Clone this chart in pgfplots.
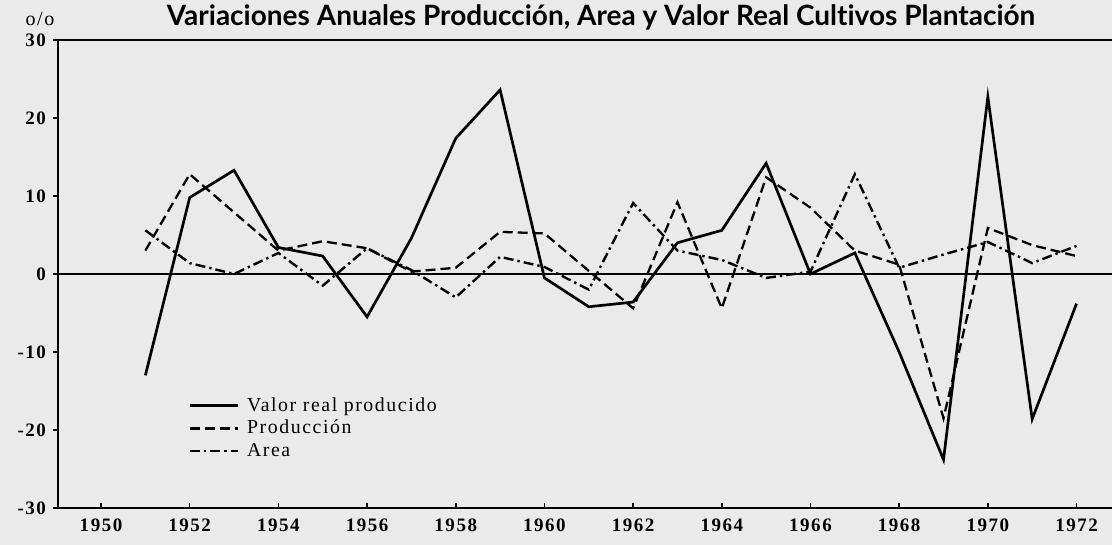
\documentclass[border=0pt]{standalone}
\usepackage{fontspec}
\setmainfont{Liberation Serif}
\newfontfamily\titlefont[Ligatures={NoCommon,NoRequired,NoContextual}]{Lato}
\newfontfamily\lblfont[LetterSpace=8]{Liberation Serif}
\usepackage{pgfplots}
\pgfplotsset{compat=1.18}
\definecolor{paper}{HTML}{EAEAEA}
\pgfplotstableread{
year valor prod area
1951 -13.0  3.0  5.6
1952   9.8 12.8  1.4
1953  13.3  7.9  0.0
1954   3.4  3.0  2.7
1955   2.3  4.2 -1.5
1956  -5.5  3.3  3.3
1957   4.6  0.3  0.5
1958  17.4  0.8 -3.0
1959  23.6  5.4  2.2
1960  -0.5  5.2  0.9
1961  -4.2  0.4 -2.0
1962  -3.6 -4.4  9.1
1963   4.0  9.2  3.0
1964   5.6 -4.4  1.8
1965  14.2 12.4 -0.5
1966   0.0  8.5  0.3
1967   2.7  3.0 12.8
1968 -10.0  1.2  0.8
1969 -23.8 -18.5 2.5
1970  22.7  5.9  4.1
1971 -18.6  3.7  1.4
1972  -3.8  2.3  3.6
}\datatable
\begin{document}
\begin{tikzpicture}
\path[use as bounding box, fill=paper] (-29pt,-18.5pt) rectangle (527pt,254pt);
\begin{axis}[
  at={(0,0)}, anchor=south west,
  scale only axis, width=527pt, height=234pt,
  xmin=1949.03, xmax=1972.8, ymin=-30, ymax=30,
  separate axis lines,
  axis x line*=box, axis y line*=left,
  axis line style={line width=1pt, black},
  xtick={1950,1952,...,1972},
  xticklabels={1950,1952,1954,1956,1958,1960,1962,1964,1966,1968,1970,1972},
  ytick={-30,-20,...,30},
  yticklabels={-30,-20,-10,0,10,20,30},
  xtick pos=bottom, ytick pos=left,
  xtick align=inside, ytick align=outside,
  major tick length=2.5pt,
  tick style={black, line width=0.8pt},
  ticklabel style={font=\lblfont\bfseries\fontsize{9.5}{10}\selectfont},
  xticklabel style={yshift=-2pt},
  legend style={at={(axis description cs:0.1233,0.2435)}, anchor=north west,
    draw=none, fill=none, font=\lblfont\fontsize{9.9}{11}\selectfont,
    inner sep=0pt, row sep=0pt, column sep=2.5pt, nodes={inner sep=1.5pt, anchor=west}},
  legend cell align=left,
  legend image code/.code={\draw[#1] (0pt,0pt) -- (24pt,0pt);},
]
\addplot[black, line width=0.8pt, forget plot] coordinates {(1949.03,0) (1972.8,0)};
\addplot[black, line width=1.35pt] table[x=year, y=valor] {\datatable};
\addlegendentry{Valor real producido}
\addplot[black, line width=1.15pt, dash pattern=on 5pt off 2.5pt] table[x=year, y=prod] {\datatable};
\addlegendentry{Producción}
\addplot[black, line width=1.2pt, dash pattern=on 5pt off 2pt on 1.2pt off 2pt] table[x=year, y=area] {\datatable};
\addlegendentry{Area}
\end{axis}
\node[font=\titlefont\bfseries\fontsize{14}{16}\selectfont, anchor=base] at (271.5pt,241pt) {Variaciones Anuales Producción, Area y Valor Real Cultivos Plantación};
\node[font=\lblfont\fontsize{10}{11}\selectfont] at (-9pt,244.5pt) {o/o};
\end{tikzpicture}
\end{document}
